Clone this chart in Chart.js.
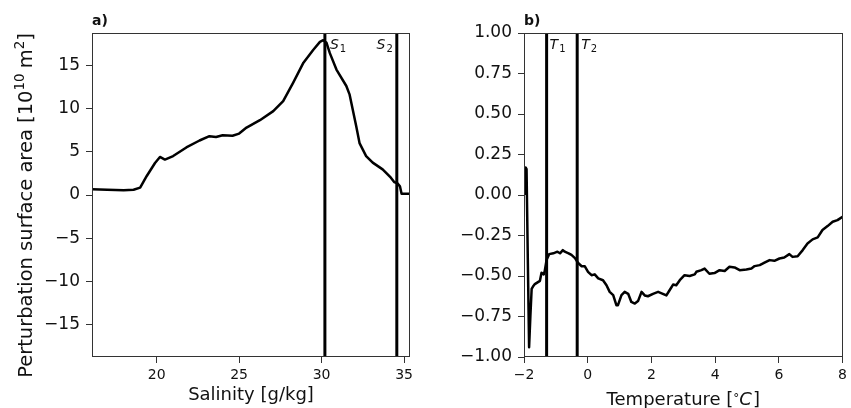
<!DOCTYPE html>
<html>
<head>
<meta charset="utf-8">
<script src="https://cdn.jsdelivr.net/npm/chart.js@4.4.0/dist/chart.umd.min.js"></script>
<style>
  html, body { margin: 0; padding: 0; background: #ffffff; }
  #wrap { position: relative; width: 851px; height: 408px; overflow: hidden; }
  canvas { position: absolute; top: 0; }
  #ca { left: 0; }
  #cb { left: 420px; }
</style>
</head>
<body>
<div id="wrap">
  <canvas id="ca" width="420" height="408" style="width:420px;height:408px"></canvas>
  <canvas id="cb" width="431" height="408" style="width:431px;height:408px"></canvas>
</div>
<script>
// ---------- Panel a data ----------
const salinity = [16.08, 17.0, 18.0, 18.6, 19.0, 19.4, 19.9, 20.2, 20.5, 21.0, 21.8, 22.6, 23.2, 23.6, 24.0, 24.6, 25.0, 25.45, 26.26, 27.07, 27.67, 28.28, 28.9, 29.5, 29.9, 30.1, 30.3, 30.5, 30.9, 31.5, 31.7, 32.1, 32.3, 32.7, 33.1, 33.7, 34.2, 34.4, 34.6, 34.75, 34.85, 35.36];
const surfaceArea = [0.66, 0.62, 0.54, 0.6, 0.85, 2.2, 3.7, 4.4, 4.1, 4.5, 5.5, 6.3, 6.8, 6.7, 6.9, 6.85, 7.1, 7.8, 8.65, 9.7, 10.85, 13.0, 15.3, 16.8, 17.7, 17.9, 17.6, 16.4, 14.5, 12.6, 11.6, 7.96, 6.0, 4.5, 3.74, 2.96, 2.0, 1.5, 1.35, 1.0, 0.15, 0.15];
const salinityMarks = [30.2, 34.56];
const salinityMarkNames = ['S', 'S'];
const salinityMarkSubs = ['1', '2'];
const salinityTicks = [20, 25, 30, 35];
const areaTicks = [-15, -10, -5, 0, 5, 10, 15];
const salinityRange = [16.08, 35.36];
const areaRange = [-18.73, 18.73];

// ---------- Panel b data ----------
const temperature = [-1.97, -1.95, -1.92, -1.88, -1.84, -1.80, -1.76, -1.70, -1.66, -1.5, -1.45, -1.38, -1.35, -1.29, -1.21, -1.08, -0.95, -0.87, -0.78, -0.72, -0.6, -0.51, -0.40, -0.30, -0.19, -0.09, 0.01, 0.12, 0.22, 0.33, 0.48, 0.59, 0.69, 0.80, 0.90, 0.95, 1.06, 1.16, 1.27, 1.37, 1.48, 1.58, 1.69, 1.79, 1.89, 2.05, 2.21, 2.36, 2.47, 2.57, 2.68, 2.78, 2.89, 3.04, 3.2, 3.36, 3.41, 3.57, 3.67, 3.82, 3.98, 4.14, 4.3, 4.45, 4.61, 4.77, 4.98, 5.14, 5.24, 5.40, 5.55, 5.71, 5.86, 6.02, 6.17, 6.33, 6.43, 6.59, 6.75, 6.90, 7.06, 7.22, 7.37, 7.53, 7.69, 7.84, 8.0];
const tempPerturbation = [0.0, 0.17, 0.16, -0.4, -0.94, -0.75, -0.58, -0.56, -0.55, -0.53, -0.48, -0.49, -0.47, -0.40, -0.365, -0.36, -0.35, -0.36, -0.34, -0.35, -0.36, -0.37, -0.39, -0.42, -0.44, -0.44, -0.474, -0.495, -0.49, -0.515, -0.526, -0.557, -0.598, -0.618, -0.68, -0.68, -0.618, -0.598, -0.61, -0.66, -0.67, -0.655, -0.598, -0.62, -0.625, -0.61, -0.598, -0.61, -0.62, -0.588, -0.553, -0.557, -0.526, -0.495, -0.5, -0.49, -0.474, -0.464, -0.454, -0.486, -0.482, -0.464, -0.469, -0.443, -0.447, -0.464, -0.46, -0.454, -0.439, -0.433, -0.418, -0.402, -0.406, -0.392, -0.386, -0.365, -0.382, -0.378, -0.34, -0.299, -0.274, -0.262, -0.216, -0.192, -0.165, -0.155, -0.134];
const tempMarks = [-1.29, -0.33];
const tempMarkNames = ['T', 'T'];
const tempMarkSubs = ['1', '2'];
const tempTicks = [-2, 0, 2, 4, 6, 8];
const pertTicks = [-1.0, -0.75, -0.5, -0.25, 0.0, 0.25, 0.5, 0.75, 1.0];
const tempRange = [-2, 8];
const pertRange = [-1, 1];

const FONT = "'DejaVu Sans', 'Liberation Sans', sans-serif";
const INK = '#111111';
const AXC = '#333333';
const minus = s => String(s).replace('-', '\u2212');

function curve(xs, ys) { return xs.map((x, i) => ({ x: x, y: ys[i] })); }
function vline(x, r) { return [{ x: x, y: r[0] }, { x: x, y: r[1] }]; }

function drawParts(ctx, parts, x, base) {
  parts.forEach(p => {
    ctx.font = p.f;
    ctx.fillText(p.t, x, base + p.dy);
    x += ctx.measureText(p.t).width + (p.after || 0);
  });
}
function partsWidth(ctx, parts) {
  let w = 0;
  parts.forEach(p => { ctx.font = p.f; w += ctx.measureText(p.t).width + (p.after || 0); });
  return w;
}

function framePlugin(panelLabel, markInfo) {
  return {
    id: 'frame' + panelLabel,
    afterDatasetsDraw(chart) {
      const { ctx, chartArea: a } = chart;
      ctx.save();
      ctx.strokeStyle = AXC;
      ctx.lineWidth = 1;
      ctx.strokeRect(Math.round(a.left) + 0.5, Math.round(a.top) + 0.5, Math.round(a.right - a.left) - 1, Math.round(a.bottom - a.top) - 1);
      ctx.fillStyle = INK;
      ctx.font = 'bold 14px ' + FONT;
      ctx.textBaseline = 'alphabetic';
      ctx.textAlign = 'left';
      ctx.fillText(panelLabel, a.left, 25);
      const xs = chart.scales.x;
      markInfo.forEach(m => {
        const px = xs.getPixelForValue(m.value);
        ctx.font = 'italic 14px ' + FONT;
        const w1 = ctx.measureText(m.name).width;
        ctx.font = '10px ' + FONT;
        const w2 = ctx.measureText(m.sub).width;
        const x0 = m.side === 'left' ? px - m.gap - (w1 + w2 + 1) : px + m.gap;
        ctx.font = 'italic 14px ' + FONT;
        ctx.fillText(m.name, x0, 49);
        ctx.font = '10px ' + FONT;
        ctx.fillText(m.sub, x0 + w1 + 1, 52);
      });
      ctx.restore();
    }
  };
}

function baseScales(o) {
  return {
    x: {
      type: 'linear', min: o.xr[0], max: o.xr[1],
      afterBuildTicks: s => { s.ticks = o.xt.map(v => ({ value: v })); },
      afterFit: s => { s.height = 51; },
      grid: { display: true, drawOnChartArea: false, drawTicks: true, tickLength: 6, tickColor: AXC, tickWidth: 1 },
      border: { display: false },
      ticks: { color: INK, padding: 4, maxRotation: 0, font: { family: FONT, size: 14 }, callback: v => minus(o.xf(v)) },
      title: o.xtitle
    },
    y: {
      type: 'linear', min: o.yr[0], max: o.yr[1],
      afterBuildTicks: s => { s.ticks = o.yt.map(v => ({ value: v })); },
      afterFit: s => { s.width = o.yw; },
      grid: { display: true, drawOnChartArea: false, drawTicks: true, tickLength: 6, tickColor: AXC, tickWidth: 1 },
      border: { display: false },
      ticks: { color: INK, padding: 6, font: { family: FONT, size: 17 }, callback: v => minus(o.yf(v)) },
      title: { display: false }
    }
  };
}

function lineDs(data, w) {
  return { data: data, borderColor: '#000000', borderWidth: w, pointRadius: 0, tension: 0, fill: false, borderJoinStyle: 'round' };
}

// ---------- Chart a ----------
const yTitlePlugin = {
  id: 'yTitleA',
  afterDraw(chart) {
    const { ctx } = chart;
    const parts = [
      { t: 'Perturbation surface area [10', f: '19.5px ' + FONT, dy: 0 },
      { t: '10', f: '13.5px ' + FONT, dy: -8, after: 5 },
      { t: 'm', f: '19.5px ' + FONT, dy: 0 },
      { t: '2', f: '13.5px ' + FONT, dy: -8 },
      { t: ']', f: '19.5px ' + FONT, dy: 0 }
    ];
    ctx.save();
    ctx.fillStyle = INK;
    ctx.textBaseline = 'alphabetic';
    ctx.textAlign = 'left';
    const w = partsWidth(ctx, parts);
    const cy = 205.5;
    ctx.translate(32, cy);
    ctx.rotate(-Math.PI / 2);
    drawParts(ctx, parts, -w / 2, 0);
    ctx.restore();
  }
};
const dsA = [lineDs(curve(salinity, surfaceArea), 2.5)];
salinityMarks.forEach(v => dsA.push(lineDs(vline(v, areaRange), 3)));
new Chart(document.getElementById('ca'), {
  type: 'line',
  data: { datasets: dsA },
  options: {
    responsive: false, animation: false, devicePixelRatio: 1,
    layout: { padding: { top: 33, right: 10, left: 0, bottom: 0 } },
    plugins: { legend: { display: false }, tooltip: { enabled: false } },
    scales: baseScales({
      xr: salinityRange, yr: areaRange, xt: salinityTicks, yt: areaTicks, yw: 92,
      xf: v => String(v), yf: v => String(v),
      xtitle: { display: true, text: 'Salinity [g/kg]', color: INK, font: { family: FONT, size: 18 }, padding: { top: 0, bottom: 2 } }
    })
  },
  plugins: [framePlugin('a)', [
    { value: salinityMarks[0], name: salinityMarkNames[0], sub: salinityMarkSubs[0], side: 'right', gap: 5 },
    { value: salinityMarks[1], name: salinityMarkNames[1], sub: salinityMarkSubs[1], side: 'left', gap: 4 }
  ]), yTitlePlugin]
});

// ---------- Chart b ----------
const dsB = [lineDs(curve(temperature, tempPerturbation), 2.5)];
tempMarks.forEach(v => dsB.push(lineDs(vline(v, pertRange), 3)));
const tempTitlePlugin = {
  id: 'tempTitle',
  afterDraw(chart) {
    const { ctx, chartArea: a } = chart;
    const parts = [
      { t: 'Temperature [', f: '18px ' + FONT, dy: 0 },
      { t: '\u00B0', f: '12px ' + FONT, dy: -3 },
      { t: 'C', f: 'italic 18px ' + FONT, dy: 0, after: 1 },
      { t: ']', f: '18px ' + FONT, dy: 0 }
    ];
    ctx.save();
    ctx.fillStyle = INK;
    ctx.textBaseline = 'alphabetic';
    ctx.textAlign = 'left';
    const w = partsWidth(ctx, parts);
    drawParts(ctx, parts, (a.left + a.right) / 2 - w / 2, 405);
    ctx.restore();
  }
};
new Chart(document.getElementById('cb'), {
  type: 'line',
  data: { datasets: dsB },
  options: {
    responsive: false, animation: false, devicePixelRatio: 1,
    layout: { padding: { top: 33, right: 7, left: 0, bottom: 0 } },
    plugins: { legend: { display: false }, tooltip: { enabled: false } },
    scales: baseScales({
      xr: tempRange, yr: pertRange, xt: tempTicks, yt: pertTicks, yw: 104,
      xf: v => String(v), yf: v => Number(v).toFixed(2),
      xtitle: { display: false }
    })
  },
  plugins: [framePlugin('b)', [
    { value: tempMarks[0], name: tempMarkNames[0], sub: tempMarkSubs[0], side: 'right', gap: 3 },
    { value: tempMarks[1], name: tempMarkNames[1], sub: tempMarkSubs[1], side: 'right', gap: 4 }
  ]), tempTitlePlugin]
});
</script>
</body>
</html>
